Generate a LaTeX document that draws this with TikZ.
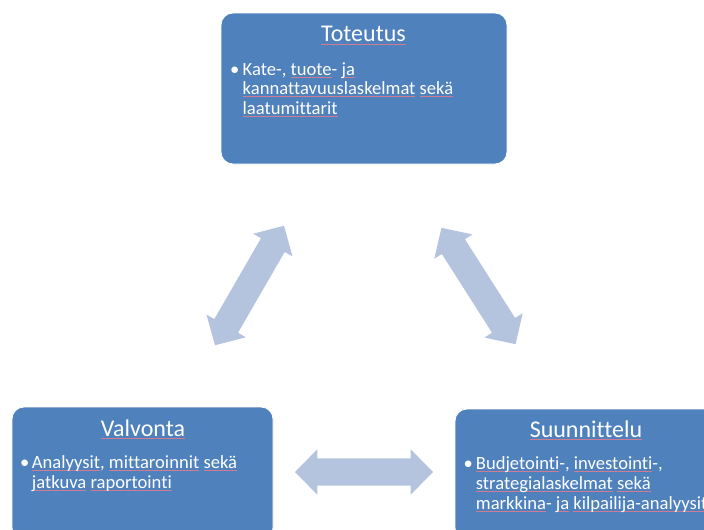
\documentclass[tikz,border=0pt]{standalone}
\usepackage{fontspec}
\setmainfont[Ligatures=NoCommon]{Carlito}
\usetikzlibrary{shapes.arrows}
\definecolor{boxblue}{HTML}{4F81BD}
\definecolor{arrowblue}{HTML}{B4C4DF}
\definecolor{splred}{HTML}{CF7C92}
% thin red underline used as the spell-check mark
\newsavebox\splbox
\newcommand\spl[1]{\sbox\splbox{#1}\rlap{\textcolor{splred}{\rule[-2.2pt]{\wd\splbox}{0.4pt}}}\usebox\splbox}

\begin{document}
\begin{tikzpicture}[x=1pt,y=-1pt,
  panel/.style={fill=boxblue, draw=white, line width=0.8pt, rounded corners=12pt, inner sep=0pt},
  heading/.style={text=white, font=\fontsize{24}{29}\selectfont, anchor=base, inner sep=0pt},
  bodytext/.style={text=white, font=\fontsize{18.6}{19.8}\selectfont, anchor=base west, inner sep=0pt},
  link/.style={double arrow, fill=arrowblue, draw=none, minimum height=138pt,
    double arrow head extend=9pt, double arrow tip angle=91, inner sep=0pt}]
  \useasboundingbox (0,0) rectangle (704,530);

  % the three phases
  \node[panel, minimum width=286pt, minimum height=151pt] (toteutus) at (364,88.5) {};
  \node[panel, minimum width=261pt, minimum height=133pt] (valvonta) at (142.5,473.5) {};
  \node[panel, minimum width=262pt, minimum height=131pt] (suunnittelu) at (586,474.5) {};

  % headings
  \node[heading] (h1) at (363.5,41.7) {\spl{Toteutus}};
  \node[heading] (h2) at (143,436) {\spl{Valvonta}};
  \node[heading] (h3) at (586,437) {\spl{Suunnittelu}};

  % bullet texts, one node per line
  \node[bodytext] (b1) at (230,75) {•};
  \node[bodytext] (t1a) at (242.5,75) {Kate-, \spl{tuote}- \spl{ja}};
  \node[bodytext] (t1b) at (242.5,94.5) {\spl{kannattavuuslaskelmat} \spl{sekä}};
  \node[bodytext] (t1c) at (242.5,114) {\spl{laatumittarit}};

  \node[bodytext] (b2) at (20,468) {•};
  \node[bodytext] (t2a) at (31.7,468) {\spl{Analyysit}, \spl{mittaroinnit} \spl{sekä}};
  \node[bodytext] (t2b) at (31.7,488) {\spl{jatkuva} \spl{raportointi}};

  \node[bodytext] (b3) at (463.5,469) {•};
  \node[bodytext] (t3a) at (475.7,469) {\spl{Budjetointi}-, \spl{investointi}-,};
  \node[bodytext] (t3b) at (475.7,489) {\spl{strategialaskelmat} \spl{sekä}};
  \node[bodytext] (t3c) at (475.7,509) {\spl{markkina}- \spl{ja} \spl{kilpailija-analyysit}};

  % two-way links between the phases
  \node[link, rotate=60] (l1) at (249.5,285.5) {\rule{0pt}{27pt}};
  \node[link, rotate=-57.5] (l2) at (478.5,286) {\rule{0pt}{27pt}};
  \node[link] (l3) at (364,472) {\rule{0pt}{27pt}};
\end{tikzpicture}
\end{document}
